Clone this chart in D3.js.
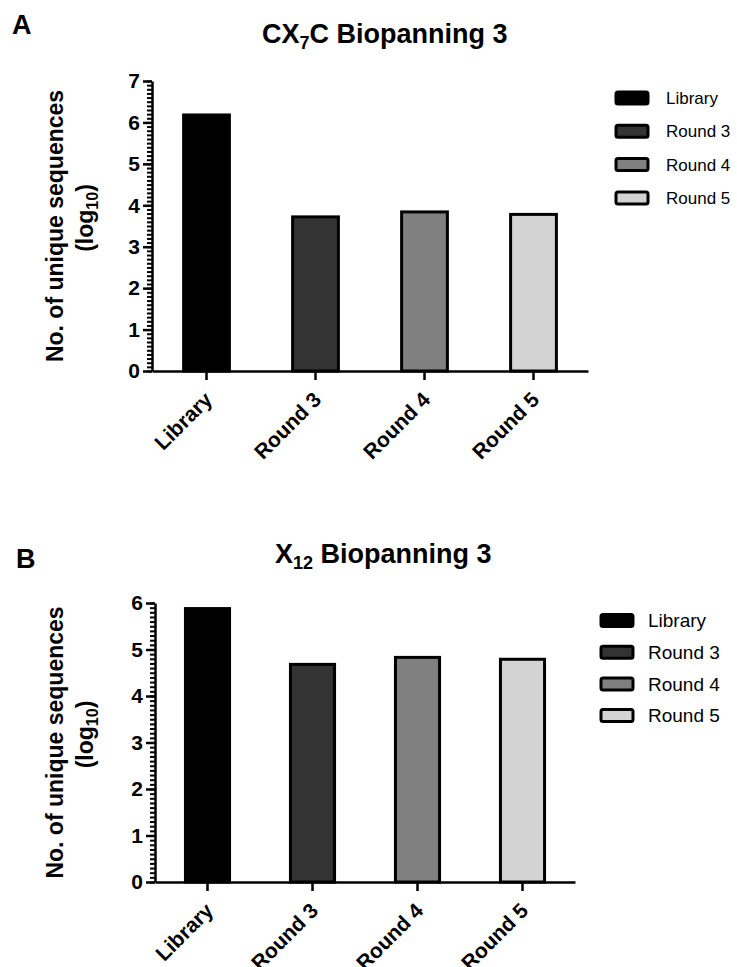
<!DOCTYPE html>
<html lang="en">
<head>
    <meta charset="UTF-8">
    <script src="https://d3js.org/d3.v7.min.js"></script>
    <title>Biopanning 3</title>
    <style>
        body { margin: 0; background: #fff; }
        text { font-family: "Liberation Sans", Arial, sans-serif; }
    </style>
</head>
<body>
    <script>
        // data
        var categories = ["Library", "Round 3", "Round 4", "Round 5"];
        var valuesA = [6.18, 3.72, 3.84, 3.78];   // CX7C
        var valuesB = [5.88, 4.68, 4.83, 4.79];   // X12
        var ticksA = [0, 1, 2, 3, 4, 5, 6, 7];
        var ticksB = [0, 1, 2, 3, 4, 5, 6];
        var fills = ["#000000", "#333333", "#808080", "#d3d3d3"];

        var width = 737, height = 967;

        var svg = d3.select("body")
            .append("svg")
            .attr("width", width)
            .attr("height", height);

        function drawPanel(p) {
            var g = svg.append("g");

            var x = d3.scaleBand()
                .domain(categories)
                .range([p.left, p.right])
                .paddingInner(0.58)
                .paddingOuter(0.29);

            var y = d3.scaleLinear()
                .domain([0, d3.max(p.ticks)])
                .range([p.bottom, p.top]);

            // panel letter + title
            g.append("text")
                .attr("x", p.letterX).attr("y", p.letterY)
                .attr("font-size", "27px").attr("font-weight", "bold")
                .text(p.letter);

            var title = g.append("text")
                .attr("x", p.titleX).attr("y", p.titleY)
                .attr("font-size", "27px").attr("font-weight", "bold");
            title.append("tspan").text(p.titleParts[0]);
            title.append("tspan").attr("font-size", "18px").attr("dy", 6).text(p.titleParts[1]);
            title.append("tspan").attr("dy", -6).text(p.titleParts[2]);

            // bars
            g.selectAll("rect.bar")
                .data(p.values)
                .enter()
                .append("rect")
                .attr("class", "bar")
                .attr("x", function (d, i) { return x(categories[i]); })
                .attr("y", function (d) { return y(d); })
                .attr("width", x.bandwidth())
                .attr("height", function (d) { return y(0) - y(d); })
                .attr("fill", function (d, i) { return fills[i]; })
                .attr("stroke", "#000")
                .attr("stroke-width", 3);

            // minor ticks every 0.1
            var minor = d3.range(0, d3.max(p.ticks) + 0.001, 0.1);
            g.append("g")
                .attr("transform", "translate(" + p.left + ",0)")
                .call(d3.axisLeft(y).tickValues(minor).tickSize(5).tickFormat(""))
                .call(function (a) {
                    a.select(".domain").remove();
                    a.selectAll("line").attr("stroke-width", 2);
                });

            // y axis
            g.append("g")
                .attr("transform", "translate(" + p.left + ",0)")
                .call(d3.axisLeft(y).tickValues(p.ticks).tickSize(9).tickSizeOuter(0)
                    .tickPadding(3).tickFormat(d3.format("d")))
                .call(function (a) {
                    a.select(".domain").attr("stroke-width", 2.5);
                    a.selectAll("line").attr("stroke-width", 2.5);
                    a.selectAll("text")
                        .attr("font-size", "21px")
                        .attr("font-weight", "bold")
                        .attr("fill", "#000")
                        .attr("font-family", null);
                });

            // x axis
            g.append("g")
                .attr("transform", "translate(0," + p.bottom + ")")
                .call(d3.axisBottom(x).tickSize(9).tickSizeOuter(0).tickFormat(""))
                .call(function (a) {
                    a.select(".domain").attr("stroke-width", 2.5);
                    a.selectAll("line").attr("stroke-width", 2.5);
                });

            g.selectAll("text.xlab")
                .data(categories)
                .enter()
                .append("text")
                .attr("class", "xlab")
                .attr("font-size", "21px")
                .attr("font-weight", "bold")
                .attr("text-anchor", "end")
                .attr("transform", function (d) {
                    var cx = x(d) + x.bandwidth() / 2 + 7;
                    return "translate(" + cx + "," + (p.bottom + 30) + ") rotate(-45)";
                })
                .text(function (d) { return d; });

            // y axis title
            var mid = (p.top + p.bottom) / 2;
            g.append("text")
                .attr("transform", "translate(" + p.yTitleX + "," + mid + ") rotate(-90)")
                .attr("text-anchor", "middle")
                .attr("font-size", "23px").attr("font-weight", "bold")
                .text("No. of unique sequences");
            var log = g.append("text")
                .attr("transform", "translate(" + (p.yTitleX + 30) + "," + (mid - 8) + ") rotate(-90)")
                .attr("text-anchor", "middle")
                .attr("font-size", "23px").attr("font-weight", "bold");
            log.append("tspan").text("(log");
            log.append("tspan").attr("font-size", "16px").attr("dy", 5).text("10");
            log.append("tspan").attr("dy", -5).text(")");

            // legend
            var leg = g.selectAll("g.leg")
                .data(categories)
                .enter()
                .append("g")
                .attr("class", "leg")
                .attr("transform", function (d, i) {
                    return "translate(" + p.legX + "," + (p.legY + i * p.legStep) + ")";
                });
            leg.append("rect")
                .attr("x", 0).attr("y", -6)
                .attr("width", 32).attr("height", 12)
                .attr("rx", 2)
                .attr("fill", function (d, i) { return fills[i]; })
                .attr("stroke", "#000")
                .attr("stroke-width", 3);
            leg.append("text")
                .attr("x", p.legTextDx)
                .attr("dy", "0.36em")
                .attr("font-size", p.legFont)
                .text(function (d) { return d; });
        }

        drawPanel({
            letter: "A", letterX: 12, letterY: 34,
            titleParts: ["CX", "7", "C Biopanning 3"], titleX: 262, titleY: 43,
            values: valuesA, ticks: ticksA,
            left: 152, right: 588, top: 81, bottom: 371,
            yTitleX: 63,
            legX: 616, legY: 98, legStep: 33.3, legTextDx: 50, legFont: "17px"
        });

        drawPanel({
            letter: "B", letterX: 16, letterY: 568,
            titleParts: ["X", "12", " Biopanning 3"], titleX: 275, titleY: 563,
            values: valuesB, ticks: ticksB,
            left: 155, right: 575, top: 603, bottom: 882,
            yTitleX: 63,
            legX: 601, legY: 620.5, legStep: 31.7, legTextDx: 47, legFont: "19px"
        });
    </script>
</body>
</html>
